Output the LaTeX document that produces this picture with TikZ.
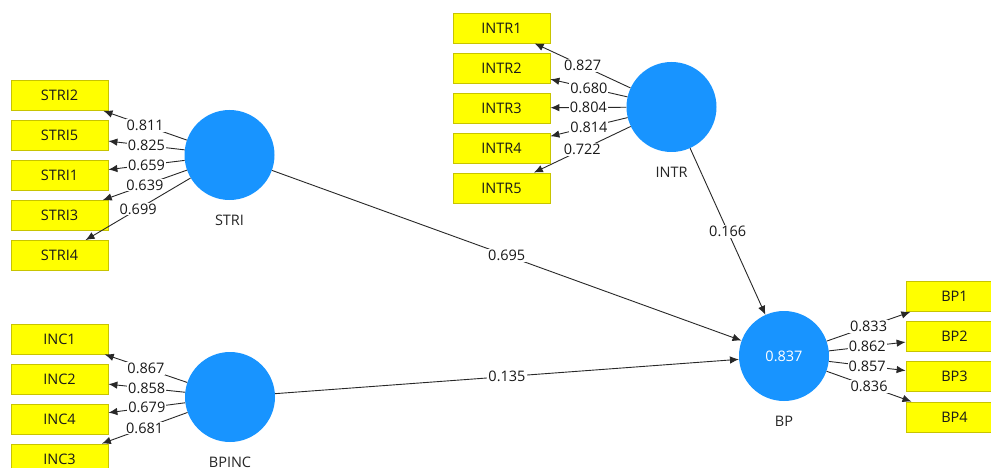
\documentclass[tikz,border=0pt]{standalone}
\usepackage{fontspec}
\setmainfont{Open Sans}
\usetikzlibrary{arrows.meta}
\definecolor{lvblue}{RGB}{24,148,255}
\definecolor{mvyellow}{RGB}{255,255,0}
\definecolor{mvborder}{RGB}{200,196,0}
\definecolor{linegray}{RGB}{40,40,40}
\begin{document}
\begin{tikzpicture}[x=1pt,y=-1pt,
  lv/.style={circle,fill=lvblue,draw=none,minimum size=90pt,inner sep=0pt,text=white,font=\fontsize{14.5}{16}\selectfont},
  mv/.style={rectangle,fill=mvyellow,draw=mvborder,line width=0.8pt,minimum width=97pt,minimum height=30pt,inner sep=0pt,font=\fontsize{14.5}{16}\selectfont,text=black!90},
  lvname/.style={font=\fontsize{14.5}{16}\selectfont,text=black!85},
  conn/.style={draw=linegray,line width=0.9pt,-{Latex[length=9pt,width=7.5pt]}},
  wt/.style={fill=white,inner sep=1pt,font=\fontsize{14.5}{16}\selectfont,text=black!90,pos=0.5}
]
\clip (0,0) rectangle (991,468);
\fill[white] (0,0) rectangle (991,468);

% latent variables
\node[lv] (STRI) at (229.5,155) {};
\node[lv] (BPINC) at (230,397) {};
\node[lv] (INTR) at (671.5,107) {};
\node[lv] (BP) at (784,356) {0.837};
\node[lvname] (STRIn) at (229.5,220) {STRI};
\node[lvname] (BPINCn) at (230,462) {BPINC};
\node[lvname] (INTRn) at (671.5,172) {INTR};
\node[lvname] (BPn) at (784,421) {BP};

% STRI indicators
\node[mv] (STRI2) at (59.5,95.5) {STRI2};
\node[mv] (STRI5) at (59.5,135.5) {STRI5};
\node[mv] (STRI1) at (59.5,175.5) {STRI1};
\node[mv] (STRI3) at (59.5,215.5) {STRI3};
\node[mv] (STRI4) at (59.5,255.5) {STRI4};

% BPINC indicators
\node[mv] (INC1) at (59.5,339) {INC1};
\node[mv] (INC2) at (59.5,379) {INC2};
\node[mv] (INC4) at (59.5,419) {INC4};
\node[mv] (INC3) at (59.5,459) {INC3};

% INTR indicators
\node[mv] (INTR1) at (501.5,28) {INTR1};
\node[mv] (INTR2) at (501.5,68) {INTR2};
\node[mv] (INTR3) at (501.5,108) {INTR3};
\node[mv] (INTR4) at (501.5,148) {INTR4};
\node[mv] (INTR5) at (501.5,188) {INTR5};

% BP indicators
\node[mv] (BP1) at (954.5,296.5) {BP1};
\node[mv] (BP2) at (954.5,336.5) {BP2};
\node[mv] (BP3) at (954.5,376.5) {BP3};
\node[mv] (BP4) at (954.5,417) {BP4};

% outer loadings STRI
\draw[conn] (STRI) -- node[wt] {0.811} (STRI2);
\draw[conn] (STRI) -- node[wt] {0.825} (STRI5);
\draw[conn] (STRI) -- node[wt] {0.659} (STRI1);
\draw[conn] (STRI) -- node[wt] {0.639} (STRI3);
\draw[conn] (STRI) -- node[wt] {0.699} (STRI4);

% outer loadings BPINC
\draw[conn] (BPINC) -- node[wt] {0.867} (INC1);
\draw[conn] (BPINC) -- node[wt] {0.858} (INC2);
\draw[conn] (BPINC) -- node[wt] {0.679} (INC4);
\draw[conn] (BPINC) -- node[wt] {0.681} (INC3);

% outer loadings INTR
\draw[conn] (INTR) -- node[wt] {0.680} (INTR2);
\draw[conn] (INTR) -- node[wt] {0.827} (INTR1);
\draw[conn] (INTR) -- node[wt] {0.804} (INTR3);
\draw[conn] (INTR) -- node[wt] {0.814} (INTR4);
\draw[conn] (INTR) -- node[wt] {0.722} (INTR5);

% outer loadings BP
\draw[conn] (BP) -- node[wt] {0.833} (BP1);
\draw[conn] (BP) -- node[wt] {0.862} (BP2);
\draw[conn] (BP) -- node[wt] {0.857} (BP3);
\draw[conn] (BP) -- node[wt] {0.836} (BP4);

% structural paths
\draw[conn] (STRI) -- node[wt] {0.695} (BP);
\draw[conn] (BPINC) -- node[wt] {0.135} (BP);
\draw[conn] (INTR) -- node[wt] {0.166} (BP);
\end{tikzpicture}
\end{document}
